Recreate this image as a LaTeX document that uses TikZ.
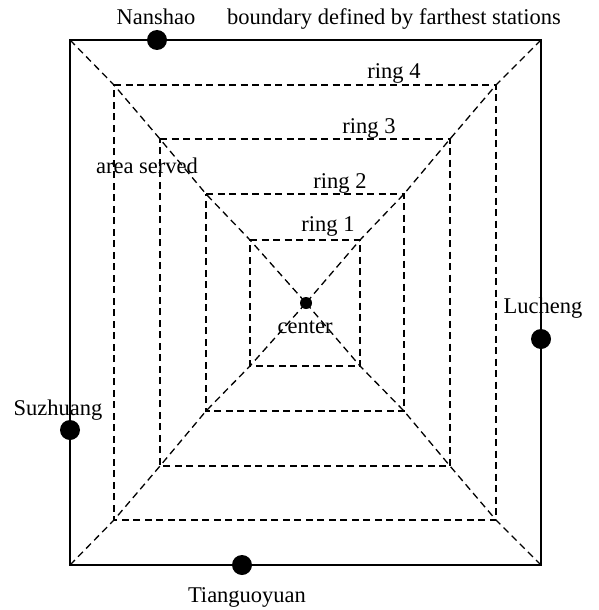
\documentclass[tikz,border=0pt]{standalone}
\usepackage{fontspec}
\setmainfont{Liberation Serif}
\begin{document}
\begin{tikzpicture}[x=1pt,y=-1pt,
  lbl/.style={font=\fontsize{22.5}{27}\selectfont, anchor=base, inner sep=0pt},
  ringline/.style={dash pattern=on 7pt off 4.5pt, line width=1.3pt},
  solidline/.style={line width=1.5pt},
  station/.style={circle, fill=black, minimum size=20pt, inner sep=0pt},
  centerdot/.style={circle, fill=black, minimum size=12pt, inner sep=0pt},
]
\useasboundingbox (0,0) rectangle (599,610);
% outer boundary
\coordinate (o1) at (70,40);
\coordinate (o2) at (541,40);
\coordinate (o3) at (541,565);
\coordinate (o4) at (70,565);
% rings
\coordinate (r4a) at (114,85);  \coordinate (r4b) at (496,85);
\coordinate (r4c) at (496,520); \coordinate (r4d) at (114,520);
\coordinate (r3a) at (160,139); \coordinate (r3b) at (450,139);
\coordinate (r3c) at (450,466); \coordinate (r3d) at (160,466);
\coordinate (r2a) at (206,194); \coordinate (r2b) at (404,194);
\coordinate (r2c) at (404,411); \coordinate (r2d) at (206,411);
\coordinate (r1a) at (250,240); \coordinate (r1b) at (360,240);
\coordinate (r1c) at (360,366); \coordinate (r1d) at (250,366);
\coordinate (c) at (306,303);

\draw[solidline] (o1) -- (o2) -- (o3) -- (o4) -- cycle;
\draw[ringline] (r4a) -- (r4b) -- (r4c) -- (r4d) -- cycle;
\draw[ringline] (r3a) -- (r3b) -- (r3c) -- (r3d) -- cycle;
\draw[ringline] (r2a) -- (r2b) -- (r2c) -- (r2d) -- cycle;
\draw[ringline] (r1a) -- (r1b) -- (r1c) -- (r1d) -- cycle;
\draw[ringline] (o1) -- (r4a) -- (r3a) -- (r2a) -- (r1a) -- (c);
\draw[ringline] (o2) -- (r4b) -- (r3b) -- (r2b) -- (r1b) -- (c);
\draw[ringline] (o3) -- (r4c) -- (r3c) -- (r2c) -- (r1c) -- (c);
\draw[ringline] (o4) -- (r4d) -- (r3d) -- (r2d) -- (r1d) -- (c);

\node[centerdot] (cdot) at (c) {};
\node[station] (nanshao) at (157,40) {};
\node[station] (lucheng) at (541,339) {};
\node[station] (suzhuang) at (70,430) {};
\node[station] (tianguoyuan) at (242,565) {};

\node[lbl] (tnanshao) at (156,25) {Nanshao};
\node[lbl, anchor=base west] (tboundary) at (227,25) {boundary defined by farthest stations};
\node[lbl] (tring4) at (394,78) {ring 4};
\node[lbl] (tring3) at (369,133) {ring 3};
\node[lbl] (tring2) at (340,188) {ring 2};
\node[lbl] (tring1) at (328,231) {ring 1};
\node[lbl] (tarea) at (147,173) {area served};
\node[lbl] (tcenter) at (305,333) {center};
\node[lbl] (tlucheng) at (543,313) {Lucheng};
\node[lbl] (tsuzhuang) at (58,415) {Suzhuang};
\node[lbl] (ttiang) at (247,602) {Tianguoyuan};
\end{tikzpicture}
\end{document}
